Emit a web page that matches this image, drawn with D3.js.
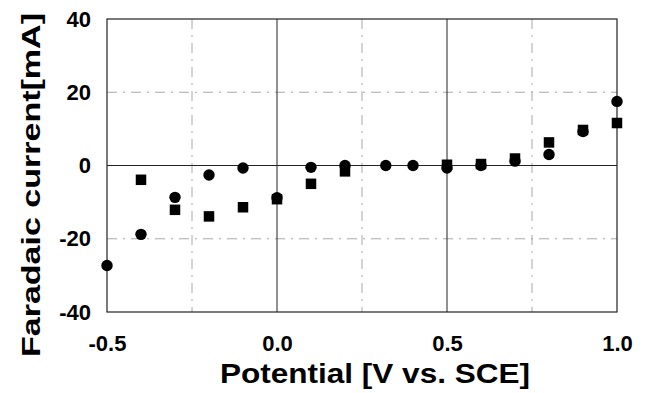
<!DOCTYPE html>
<html>
<head>
<meta charset="utf-8">
<script src="https://cdn.jsdelivr.net/npm/d3@7"></script>
<style>
  body { margin: 0; background: #fff; }
  text { font-family: 'Liberation Sans', Arial, sans-serif; font-weight: bold; fill: #000; }
</style>
</head>
<body>
<div id="root"></div>
<script>
// Data
const potential = [-0.5, -0.4, -0.3, -0.2, -0.1, 0.0, 0.1, 0.2, 0.32, 0.4, 0.5, 0.6, 0.7, 0.8, 0.9, 1.0];
const circleCurrent = [-27.3, -18.8, -8.7, -2.6, -0.7, -8.8, -0.5, 0, 0, 0, -0.7, 0, 1.2, 3.0, 9.3, 17.5];
const squareCurrent = [null, -3.9, -12.1, -13.9, -11.4, -9.2, -5.0, -1.6, null, null, 0.2, 0.4, 1.9, 6.3, 9.7, 11.6];
const xTicks = [-0.5, 0.0, 0.5, 1.0];
const yTicks = [-40, -20, 0, 20, 40];
const xMajor = [0.0, 0.5];
const xMinor = [-0.25, 0.25, 0.75];
const yMajor = [0];
const yMinor = [-20, 20];

// Variables
const width = 650;
const height = 393;
const plot = { left: 107, right: 617, top: 19, bottom: 312 };
const markerRadius = 5.7;
const squareSize = 10.5;

const svg = d3.select('#root')
  .append('svg')
  .attr('width', width)
  .attr('height', height);

const x = d3.scaleLinear().domain([-0.5, 1.0]).range([plot.left, plot.right]);
const y = d3.scaleLinear().domain([-40, 40]).range([plot.bottom, plot.top]);

// plain hyphen instead of the unicode minus d3.format gives
const hyphen = f => d => f(d).replace('\u2212', '-');

// Grid lines: dash-dot minor, solid major
const grid = svg.append('g');
grid.selectAll('.xminor')
  .data(xMinor)
  .enter()
    .append('line')
    .attr('x1', d => x(d)).attr('x2', d => x(d))
    .attr('y1', y(40)).attr('y2', y(-40))
    .attr('stroke', '#a8a8a8')
    .attr('stroke-dasharray', '10,6,2,6');

grid.selectAll('.yminor')
  .data(yMinor)
  .enter()
    .append('line')
    .attr('x1', x(-0.5)).attr('x2', x(1.0))
    .attr('y1', d => y(d)).attr('y2', d => y(d))
    .attr('stroke', '#a8a8a8')
    .attr('stroke-dasharray', '10,6,2,6');

grid.selectAll('.xmajor')
  .data(xMajor)
  .enter()
    .append('line')
    .attr('x1', d => x(d)).attr('x2', d => x(d))
    .attr('y1', y(40)).attr('y2', y(-40))
    .attr('stroke', '#222')
    .attr('stroke-width', 1);

grid.selectAll('.ymajor')
  .data(yMajor)
  .enter()
    .append('line')
    .attr('x1', x(-0.5)).attr('x2', x(1.0))
    .attr('y1', d => y(d)).attr('y2', d => y(d))
    .attr('stroke', '#222')
    .attr('stroke-width', 1);

// Frame
svg.append('rect')
  .attr('x', x(-0.5))
  .attr('y', y(40))
  .attr('width', x(1.0) - x(-0.5))
  .attr('height', y(-40) - y(40))
  .attr('fill', 'none')
  .attr('stroke', '#222')
  .attr('stroke-width', 1.2);

// Axes (labels only)
const xAxis = svg.append('g')
  .attr('transform', `translate(0,${plot.bottom})`)
  .call(d3.axisBottom(x).tickValues(xTicks).tickFormat(hyphen(d3.format('.1f'))).tickSize(0).tickPadding(23));

const yAxis = svg.append('g')
  .attr('transform', `translate(${plot.left},0)`)
  .call(d3.axisLeft(y).tickValues(yTicks).tickFormat(hyphen(d3.format('d'))).tickSize(0).tickPadding(16));

[xAxis, yAxis].forEach(axis => {
  axis.select('.domain').remove();
  axis.selectAll('text')
    .attr('fill', '#000')
    .style('font-size', '22px')
    .style('font-family', "'Liberation Sans', Arial, sans-serif")
    .style('font-weight', 'bold');
});

// Markers: squares first, circles on top
const points = potential.map((p, i) => ({ p, c: circleCurrent[i], s: squareCurrent[i] }));

svg.append('g')
  .selectAll('rect')
  .data(points.filter(d => d.s !== null))
  .enter()
    .append('rect')
    .attr('x', d => x(d.p) - squareSize / 2)
    .attr('y', d => y(d.s) - squareSize / 2)
    .attr('width', squareSize)
    .attr('height', squareSize)
    .attr('fill', '#000');

svg.append('g')
  .selectAll('circle')
  .data(points.filter(d => d.c !== null))
  .enter()
    .append('circle')
    .attr('cx', d => x(d.p))
    .attr('cy', d => y(d.c))
    .attr('r', markerRadius)
    .attr('fill', '#000');

// Axis titles
svg.append('text')
  .attr('x', 220)
  .attr('y', 383)
  .attr('textLength', 310)
  .attr('lengthAdjust', 'spacingAndGlyphs')
  .style('font-size', '28px')
  .text('Potential [V vs. SCE]');

svg.append('text')
  .attr('transform', 'translate(40,357) rotate(-90)')
  .attr('textLength', 344)
  .attr('lengthAdjust', 'spacingAndGlyphs')
  .style('font-size', '26px')
  .text('Faradaic current[mA]');
</script>
</body>
</html>
